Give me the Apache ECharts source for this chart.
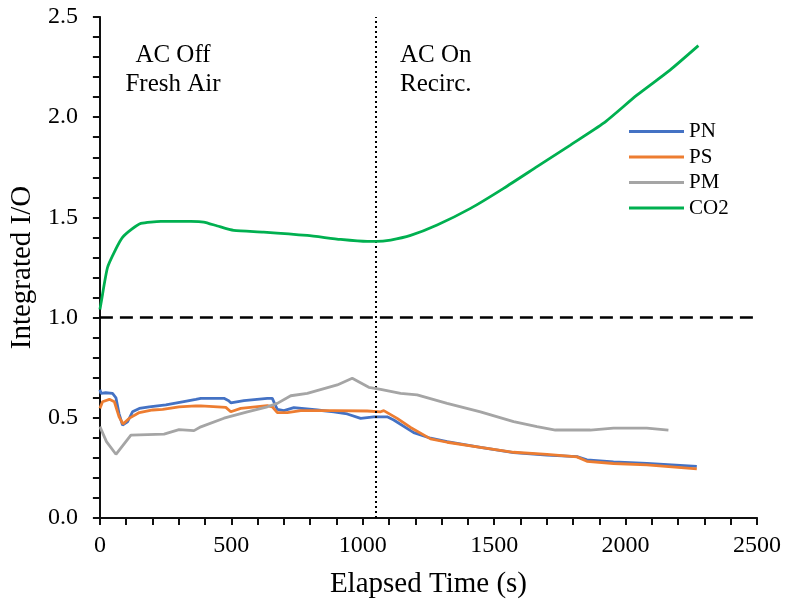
<!DOCTYPE html>
<html>
<head>
<meta charset="utf-8">
<script src="https://cdn.jsdelivr.net/npm/echarts@6/dist/echarts.min.js"></script>
<style>
  html, body { margin: 0; padding: 0; background: #fff; }
  #chart { width: 788px; height: 605px; }
</style>
</head>
<body>
<div id="chart"></div>
<script>
// series: [elapsed time (s), integrated I/O]
const pnData = [
  [0, 0.64], [4, 0.622], [22, 0.625], [48, 0.622], [61, 0.60], [73, 0.52], [86, 0.464],
  [105, 0.48], [124, 0.53], [150, 0.547], [188, 0.555], [251, 0.564], [314, 0.58],
  [365, 0.592], [384, 0.597], [472, 0.597], [490, 0.585], [498, 0.575], [548, 0.586],
  [637, 0.597], [656, 0.597], [665, 0.57], [675, 0.542], [700, 0.536], [738, 0.551],
  [827, 0.539], [890, 0.53], [941, 0.519], [992, 0.497], [1042, 0.505], [1068, 0.505],
  [1093, 0.505], [1118, 0.489], [1194, 0.426], [1258, 0.398], [1321, 0.381], [1448, 0.353],
  [1574, 0.326], [1701, 0.314], [1815, 0.306], [1853, 0.29], [1954, 0.28], [2081, 0.272],
  [2271, 0.258]
]
const psData = [
  [0, 0.547], [10, 0.58], [36, 0.592], [55, 0.58], [73, 0.505], [88, 0.469], [111, 0.497],
  [150, 0.526], [201, 0.539], [239, 0.542], [301, 0.555], [365, 0.559], [384, 0.559],
  [479, 0.552], [498, 0.53], [536, 0.547], [637, 0.561], [656, 0.555], [675, 0.526],
  [713, 0.526], [764, 0.536], [890, 0.536], [1017, 0.534], [1068, 0.53], [1080, 0.536],
  [1131, 0.497], [1182, 0.452], [1258, 0.395], [1321, 0.378], [1448, 0.352], [1574, 0.328],
  [1701, 0.318], [1815, 0.305], [1853, 0.283], [1954, 0.272], [2081, 0.265], [2271, 0.245]
]
const pmData = [
  [0, 0.456], [25, 0.381], [61, 0.318], [118, 0.414], [244, 0.419], [301, 0.441],
  [358, 0.436], [384, 0.455], [472, 0.498], [561, 0.53], [637, 0.555], [675, 0.572],
  [726, 0.61], [789, 0.622], [903, 0.664], [960, 0.697], [1023, 0.652], [1068, 0.642],
  [1144, 0.622], [1207, 0.614], [1321, 0.572], [1448, 0.53], [1574, 0.481], [1663, 0.456],
  [1733, 0.439], [1866, 0.439], [1954, 0.448], [2081, 0.448], [2163, 0.439]
]
const co2Data = [
  [0, 1.04], [4, 1.07], [29, 1.25], [60, 1.34], [86, 1.40], [120, 1.44], [156, 1.47],
  [232, 1.48], [346, 1.48], [395, 1.477], [447, 1.457], [509, 1.435], [623, 1.427],
  [789, 1.41], [916, 1.39], [1017, 1.38], [1050, 1.38], [1106, 1.387], [1182, 1.41],
  [1283, 1.462], [1410, 1.545], [1536, 1.645], [1663, 1.753], [1790, 1.861], [1916, 1.97],
  [2043, 2.11], [2169, 2.235], [2277, 2.357]
]

const seriesNames = ['PN', 'PS', 'PM', 'CO2']
const seriesColors = ['#4472C4', '#ED7D31', '#A5A5A5', '#00B050']
const seriesData = [pnData, psData, pmData, co2Data]

const referenceLevel = 1.0   // I/O = 1
const switchTime = 1050      // AC switched on / recirculation

const font = 'Liberation Serif'

const chart = echarts.init(document.getElementById('chart'), null, { renderer: 'canvas' })

const series = seriesNames.map((name, i) => ({
  name,
  type: 'line',
  data: seriesData[i],
  symbol: 'none',
  smooth: name === 'CO2' ? 0.2 : false,
  color: seriesColors[i],
  lineStyle: { width: 2.8, color: seriesColors[i] },
  z: 3 + i
}))

// reference lines
series[0].markLine = {
  silent: true,
  symbol: 'none',
  label: { show: false },
  data: [
    { yAxis: referenceLevel, lineStyle: { color: '#000', width: 2.5, type: [13, 7] } },
    { xAxis: switchTime, lineStyle: { color: '#000', width: 2, type: [2, 3] } }
  ]
}

// main axes: ticks every 100 s / 0.1, labels every 500 s / 0.5
function mainAxis(extra) {
  return Object.assign({
    type: 'value',
    axisLine: { show: true, lineStyle: { color: '#111', width: 2 } },
    axisTick: { show: true, length: 7, lineStyle: { color: '#111', width: 2 } },
    minorTick: { show: true, splitNumber: 5, length: 7, lineStyle: { color: '#111', width: 2 } },
    splitLine: { show: true, lineStyle: { color: '#fff', opacity: 0 } },
    nameLocation: 'middle',
    nameTextStyle: { fontFamily: font, fontSize: 29, color: '#000' }
  }, extra)
}

// plain axes on the opposite sides close the box
function frameAxis(extra) {
  return Object.assign({
    type: 'value',
    axisLine: { show: true, lineStyle: { color: '#111', width: 1.5 } },
    axisTick: { show: false },
    axisLabel: { show: false },
    splitLine: { show: false }
  }, extra)
}

chart.setOption({
  animation: false,
  grid: { left: 99, right: 31, top: 17, bottom: 87 },
  legend: {
    data: seriesNames,
    orient: 'vertical',
    left: 629, top: 121, padding: 0,
    icon: 'rect',
    itemWidth: 55, itemHeight: 3, itemGap: 4.5,
    textStyle: { fontFamily: font, fontSize: 21, lineHeight: 21, color: '#000' }
  },
  xAxis: [
    mainAxis({
      min: 0, max: 2500, interval: 500,
      name: 'Elapsed Time (s)',
      nameGap: 52,
      axisLabel: {
        margin: 16, fontFamily: font, fontSize: 24, color: '#000',
        formatter: v => String(v)
      }
    }),
    frameAxis({ position: 'top', min: 0, max: 2500 })
  ],
  yAxis: [
    mainAxis({
      min: 0, max: 2.5, interval: 0.5,
      name: 'Integrated I/O',
      nameGap: 50,
      axisLabel: {
        margin: 22, fontFamily: font, fontSize: 24, color: '#000',
        formatter: v => v.toFixed(1)
      }
    }),
    frameAxis({ position: 'right', min: 0, max: 2.5 })
  ],
  graphic: [
    {
      type: 'text', x: 173, y: 41,
      style: {
        text: 'AC Off\nFresh Air', fontFamily: font, fontSize: 25, lineHeight: 29,
        fill: '#000', align: 'center', verticalAlign: 'top'
      }
    },
    {
      type: 'text', x: 400, y: 41,
      style: {
        text: 'AC On\nRecirc.', fontFamily: font, fontSize: 25, lineHeight: 29,
        fill: '#000', align: 'left', verticalAlign: 'top'
      }
    }
  ],
  series
})
</script>
</body>
</html>
